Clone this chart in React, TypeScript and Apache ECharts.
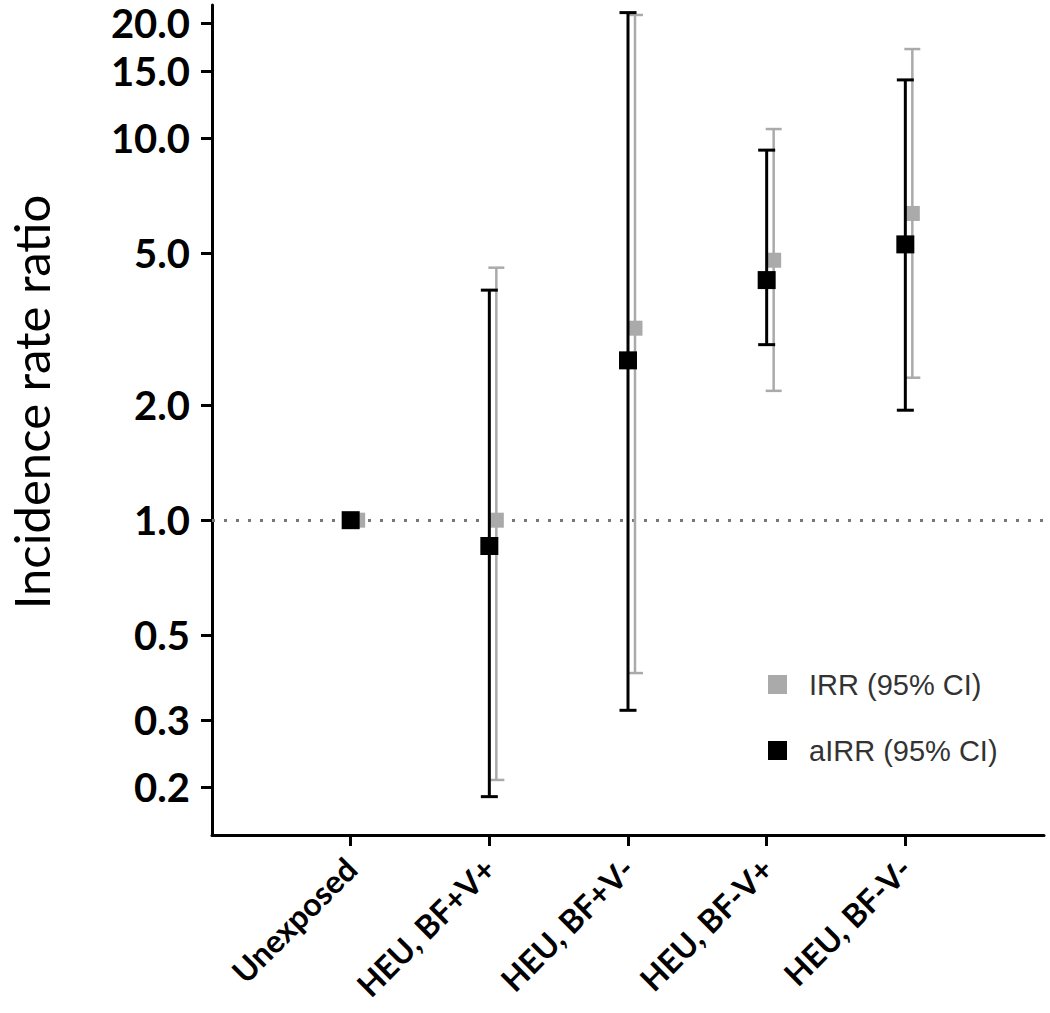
import React, { useEffect, useRef } from "react";
import * as echarts from "echarts";

// Categories (x axis)
const categories = ["Unexposed", "HEU, BF+V+", "HEU, BF+V-", "HEU, BF-V+", "HEU, BF-V-"];

// Crude incidence rate ratio (grey) with 95% CI
const irr = [1.0, 1.0, 3.18, 4.79, 6.35];
const irrLow: (number | null)[] = [null, 0.209, 0.398, 2.18, 2.36];
const irrHigh: (number | null)[] = [null, 4.58, 21.0, 10.56, 17.1];

// Adjusted incidence rate ratio (black) with 95% CI
const airr = [1.0, 0.856, 2.62, 4.25, 5.27];
const airrLow: (number | null)[] = [null, 0.189, 0.318, 2.88, 1.94];
const airrHigh: (number | null)[] = [null, 4.0, 21.3, 9.3, 14.2];

// Y tick labels (log scale)
const yTicks = [0.2, 0.3, 0.5, 1, 2, 5, 10, 15, 20];
const referenceValue = 1;

const seriesNames = ["IRR (95% CI)", "aIRR (95% CI)"];

function makeRender(color: string, offset: number, lineWidth: number, markerSize: number, capWidth: number) {
  return (params: any, api: any) => {
    const i = api.value(0);
    const v = api.value(1);
    const lo = api.value(2);
    const hi = api.value(3);
    const p = api.coord([i, v]);
    const x = p[0] + offset;
    const children: any[] = [];
    if (typeof lo === "number" && !isNaN(lo) && typeof hi === "number" && !isNaN(hi)) {
      const pl = api.coord([i, lo]);
      const ph = api.coord([i, hi]);
      children.push({
        type: "line",
        shape: { x1: x, y1: pl[1], x2: x, y2: ph[1] },
        style: { stroke: color, lineWidth },
      });
      children.push({
        type: "line",
        shape: { x1: x - capWidth / 2, y1: pl[1], x2: x + capWidth / 2, y2: pl[1] },
        style: { stroke: color, lineWidth },
      });
      children.push({
        type: "line",
        shape: { x1: x - capWidth / 2, y1: ph[1], x2: x + capWidth / 2, y2: ph[1] },
        style: { stroke: color, lineWidth },
      });
    }
    children.push({
      type: "rect",
      shape: { x: x - markerSize / 2, y: p[1] - markerSize / 2, width: markerSize, height: markerSize },
      style: { fill: color },
    });
    return { type: "group", children };
  };
}

export default function App() {
  const ref = useRef<HTMLDivElement>(null);

  useEffect(() => {
    if (!ref.current) return;
    const chart = echarts.init(ref.current, null, { renderer: "svg" });

    const irrData = categories.map((_, i) => [i, irr[i], irrLow[i] ?? NaN, irrHigh[i] ?? NaN]);
    const airrData = categories.map((_, i) => [i, airr[i], airrLow[i] ?? NaN, airrHigh[i] ?? NaN]);
    const catIdx = categories.map((_, i) => i);

    chart.setOption({
      animation: false,
      backgroundColor: "#ffffff",
      grid: { left: 212, right: 6, top: 5, bottom: 178, containLabel: false, outerBoundsMode: "none" },
      legend: {
        orient: "vertical",
        left: 768,
        top: 670,
        padding: 0,
        icon: "rect",
        itemWidth: 19,
        itemHeight: 19,
        itemGap: 37,
        data: seriesNames,
        textStyle: {
          fontFamily: "Liberation Sans",
          fontSize: 29,
          color: "#333333",
          padding: [0, 0, 0, 17],
        },
      },
      xAxis: {
        type: "value",
        min: -1,
        max: 5,
        interval: 1,
        splitLine: { show: false },
        axisLine: { show: true, onZero: false, lineStyle: { color: "#000", width: 3 } },
        axisTick: { show: true, length: 11, customValues: catIdx, lineStyle: { color: "#000", width: 3 } },
        axisLabel: {
          customValues: catIdx,
          formatter: (v: number) => categories[Math.round(v)] ?? "",
          rotate: 45,
          margin: 28,
          fontFamily: "Lato",
          fontWeight: "bold",
          fontSize: 32,
          color: "#000",
        },
      },
      yAxis: {
        type: "log",
        logBase: 10,
        min: 0.15,
        max: 22.3,
        splitLine: { show: false },
        minorTick: { show: false },
        axisLine: { show: true, onZero: false, lineStyle: { color: "#000", width: 3 } },
        axisTick: { show: true, length: 11, customValues: yTicks, lineStyle: { color: "#000", width: 3 } },
        axisLabel: {
          customValues: yTicks,
          formatter: (v: number) => Number(v).toFixed(1),
          margin: 22,
          fontFamily: "Lato",
          fontWeight: "bold",
          fontSize: 40,
          color: "#000",
        },
        name: "Incidence rate ratio",
        nameLocation: "middle",
        nameGap: 157,
        nameRotate: 90,
        nameTextStyle: {
          fontFamily: "Lato",
          fontSize: 49,
          color: "#000",
          padding: [0, 0, 0, 36],
        },
      },
      series: [
        {
          name: seriesNames[0],
          type: "custom",
          z: 2,
          itemStyle: { color: "#aaaaaa" },
          renderItem: makeRender("#aaaaaa", 7, 2.5, 15, 16),
          data: irrData,
          markLine: {
            silent: true,
            symbol: "none",
            z: 1,
            label: { show: false },
            lineStyle: { color: "#777777", type: [3, 9], width: 3 },
            data: [{ yAxis: referenceValue }],
          },
        },
        {
          name: seriesNames[1],
          type: "custom",
          z: 3,
          itemStyle: { color: "#000000" },
          renderItem: makeRender("#000000", 0, 3, 18, 17),
          data: airrData,
        },
      ],
    });

    return () => chart.dispose();
  }, []);

  return (
    <div
      ref={ref}
      style={{ position: "fixed", left: 0, top: 0, width: 1050, height: 1013, background: "#fff" }}
    />
  );
}
